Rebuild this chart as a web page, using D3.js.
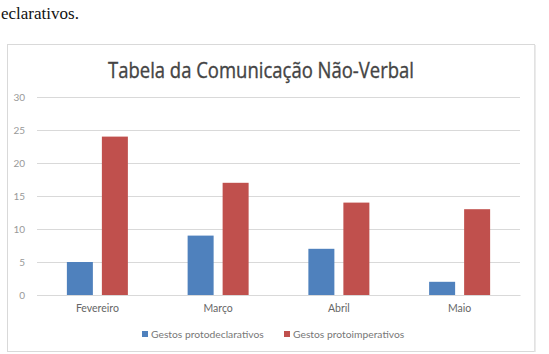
<!DOCTYPE html>
<html>
<head>
<meta charset="utf-8">
<script src="https://cdn.jsdelivr.net/npm/d3@7"></script>
<style>
  html, body { margin: 0; padding: 0; background: #fff; }
  svg { display: block; }
</style>
</head>
<body>
<svg id="chart" width="549" height="354"></svg>
<script>
const categories = ["Fevereiro", "Março", "Abril", "Maio"];
const seriesNames = ["Gestos protodeclarativos", "Gestos protoimperativos"];
const protodeclarativos = [5, 9, 7, 2];
const protoimperativos = [24, 17, 14, 13];
const yTicks = [0, 5, 10, 15, 20, 25, 30];
const titleText = "Tabela da Comunicação Não-Verbal";
const headText = "eclarativos.";

const colors = ["#4f81bd", "#c0504d"];
const svg = d3.select("#chart");
const FONT = "Lato, 'Open Sans', sans-serif";

// leading text from the document
svg.append("text").attr("x", 1).attr("y", 19)
  .attr("font-family", "'Liberation Serif', 'Times New Roman', serif")
  .attr("font-size", 17).attr("fill", "#111").text(headText);

// chart frame
svg.append("rect").attr("x", 7.5).attr("y", 44.5).attr("width", 527).attr("height", 307)
  .attr("fill", "#fff").attr("stroke", "#d9d9d9").attr("stroke-width", 1);
svg.append("line").attr("x1", 535).attr("x2", 535).attr("y1", 45).attr("y2", 352)
  .attr("stroke", "#e4e4e4").attr("stroke-width", 1.5);

// title
svg.append("text").attr("x", 108).attr("y", 77.5)
  .attr("font-family", "'Open Sans', sans-serif")
  .attr("font-size", 21).attr("fill", "#444")
  .attr("stroke", "#444").attr("stroke-width", 0.35)
  .attr("textLength", 306).attr("lengthAdjust", "spacingAndGlyphs")
  .text(titleText);

const margin = { left: 37, right: 520, top: 97, bottom: 295 };
const x = d3.scaleBand().domain(categories).range([margin.left, margin.right]).paddingInner(0).paddingOuter(0);
const y = d3.scaleLinear().domain([0, 30]).range([margin.bottom, margin.top]);
const barW = 26, gap = 9;

// gridlines
const yAxis = d3.axisLeft(y).tickValues(yTicks).tickSize(-(margin.right - margin.left)).tickPadding(12);
const gy = svg.append("g").attr("transform", `translate(${margin.left},0)`).call(yAxis);
gy.select(".domain").remove();
gy.selectAll(".tick line").attr("stroke", "#d9d9d9").attr("stroke-width", 1);
gy.selectAll(".tick text").attr("font-family", FONT).attr("font-size", 10)
  .attr("fill", "#999");

// bars
const data = categories.map((c, i) => ({ c, v: [protodeclarativos[i], protoimperativos[i]] }));
const groupW = barW * 2 + gap;
const g = svg.append("g");
data.forEach(d => {
  d.v.forEach((v, s) => {
    const x0 = x(d.c) + x.bandwidth() / 2 - groupW / 2 + s * (barW + gap);
    g.append("rect").attr("x", x0).attr("y", y(v)).attr("width", barW)
      .attr("height", y(0) - y(v)).attr("fill", colors[s]);
  });
});

// x labels
const xAxis = d3.axisBottom(x).tickSize(0).tickPadding(10);
const gx = svg.append("g").attr("transform", `translate(0,${margin.bottom})`).call(xAxis);
gx.select(".domain").attr("stroke", "#d9d9d9");
gx.selectAll(".tick text").attr("font-family", FONT).attr("font-size", 10.5).attr("fill", "#666");

// legend
const legendPos = [142, 284];
seriesNames.forEach((n, i) => {
  svg.append("rect").attr("x", legendPos[i]).attr("y", 331).attr("width", 6).attr("height", 6)
    .attr("fill", colors[i]);
  svg.append("text").attr("x", legendPos[i] + 9).attr("y", 337.5)
    .attr("font-family", FONT).attr("font-size", 10.3).attr("fill", "#777").text(n);
});
</script>
</body>
</html>
